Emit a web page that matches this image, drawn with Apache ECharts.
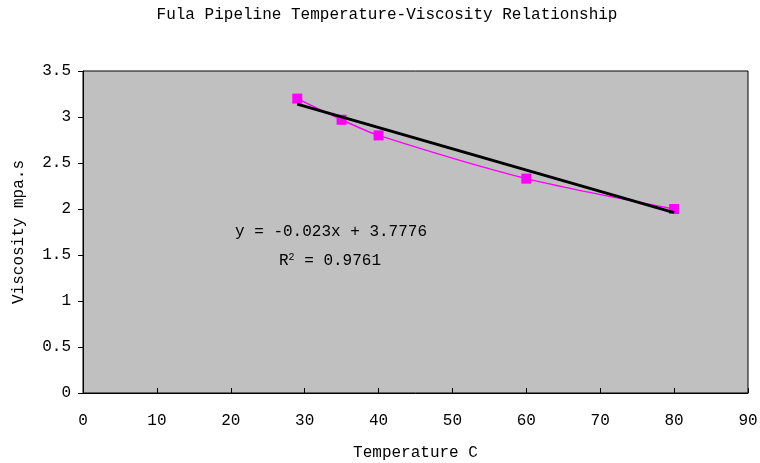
<!DOCTYPE html>
<html>
<head>
<meta charset="utf-8">
<script src="https://cdn.jsdelivr.net/npm/echarts@6/dist/echarts.min.js"></script>
<style>html,body{margin:0;padding:0;background:#fff}#c{width:760px;height:463px}</style>
</head>
<body>
<div id="c"></div>
<script>
var temperature = [29, 35, 40, 60, 80];
var viscosity = [3.2, 2.97, 2.8, 2.33, 2.0];
var trendX = [29, 80];
var trendY = [3.14, 1.96];
var xTicks = [0, 10, 20, 30, 40, 50, 60, 70, 80, 90];
var yTicks = [0, 0.5, 1, 1.5, 2, 2.5, 3, 3.5];
var titleText = 'Fula Pipeline Temperature-Viscosity Relationship';
var eqText = 'y = -0.023x + 3.7776';
var r2Text = '0.9761';

var FONT = '"Liberation Mono", "DejaVu Sans Mono", monospace';
var chart = echarts.init(document.getElementById('c'), null, {renderer: 'canvas'});
chart.setOption({
  backgroundColor: '#fff',
  animation: false,
  title: {
    text: titleText, left: 382, top: 2, textAlign: 'center',
    textStyle: {fontFamily: FONT, fontSize: 16, fontWeight: 'normal', color: '#000'}
  },
  grid: {left: 83, right: 12, top: 71, bottom: 70, show: true, containLabel: false,
    outerBoundsMode: 'none',
    backgroundColor: '#C0C0C0', borderColor: '#000', borderWidth: 1},
  xAxis: {
    type: 'value', min: xTicks[0], max: xTicks[xTicks.length - 1], interval: 10,
    name: 'Temperature C', nameLocation: 'middle', nameGap: 52,
    nameTextStyle: {fontFamily: FONT, fontSize: 16, color: '#000'},
    axisLine: {show: true, lineStyle: {color: '#000', width: 1}},
    axisTick: {show: true, inside: true, length: 5, lineStyle: {color: '#000'}},
    axisLabel: {fontFamily: FONT, fontSize: 16, color: '#000', margin: 20},
    splitLine: {show: false}
  },
  yAxis: {
    type: 'value', min: yTicks[0], max: yTicks[yTicks.length - 1], interval: 0.5,
    name: 'Viscosity mpa.s', nameLocation: 'middle', nameGap: 56,
    nameTextStyle: {fontFamily: FONT, fontSize: 16, color: '#000'},
    axisLine: {show: true, lineStyle: {color: '#000', width: 1}},
    axisTick: {show: true, inside: false, length: 5, lineStyle: {color: '#000'}},
    axisLabel: {fontFamily: FONT, fontSize: 16, color: '#000', margin: 12},
    splitLine: {show: false}
  },
  series: [
    {
      type: 'line', smooth: 0.25,
      data: temperature.map(function (t, i) { return [t, viscosity[i]]; }),
      symbol: 'rect', symbolSize: 10,
      itemStyle: {color: '#FF00FF'},
      lineStyle: {color: '#FF00FF', width: 1.5},
      z: 3
    },
    {
      type: 'line',
      data: trendX.map(function (t, i) { return [t, trendY[i]]; }),
      symbol: 'none',
      lineStyle: {color: '#000', width: 3},
      z: 4
    }
  ],
  graphic: [
    {type: 'text', x: 331, y: 232, z: 10,
      style: {text: eqText, font: '16px ' + FONT, fill: '#000', align: 'center', verticalAlign: 'middle'}},
    {type: 'text', x: 330, y: 261, z: 10,
      style: {text: '{r|R}{s|2}{r| = ' + r2Text + '}', font: '16px ' + FONT, fill: '#000',
        align: 'center', verticalAlign: 'middle',
        rich: {r: {fontFamily: FONT, fontSize: 16, color: '#000'},
               s: {fontFamily: FONT, fontSize: 10, color: '#000', verticalAlign: 'top', padding: [0, 0, 8, 0]}}}}
  ]
});
</script>
</body>
</html>
